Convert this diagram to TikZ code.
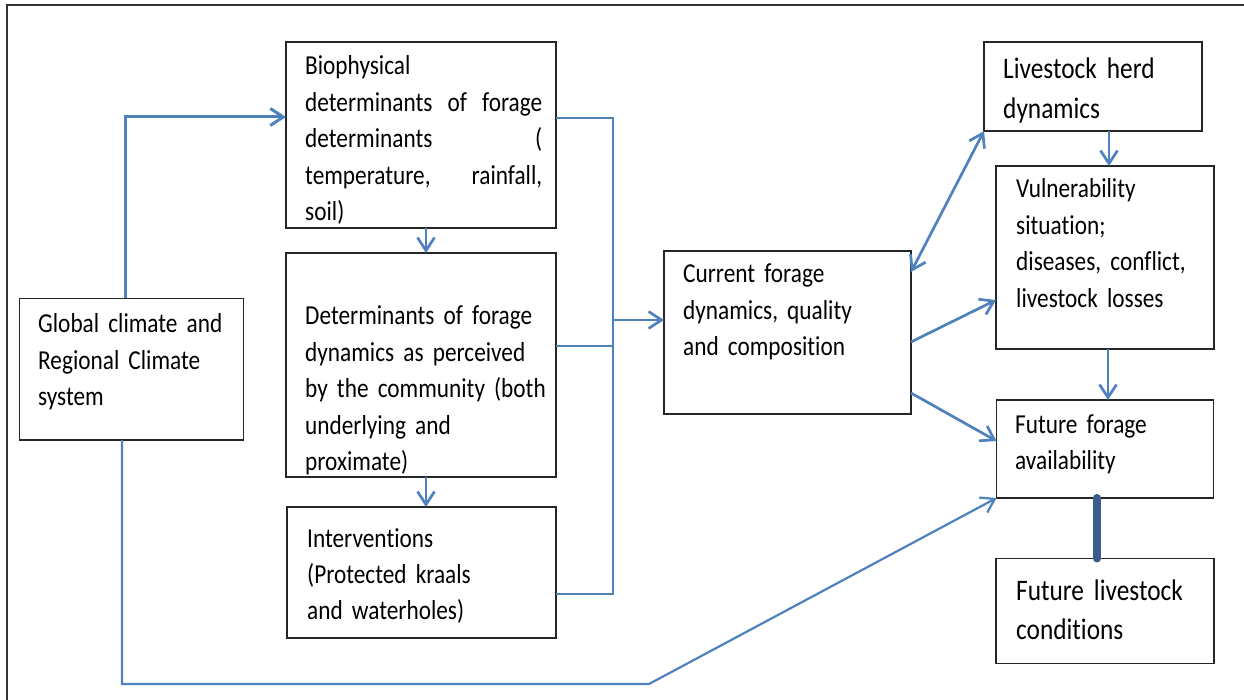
\documentclass[tikz,border=0pt]{standalone}
\usepackage{fontspec}
\setmainfont{Carlito}[FakeStretch=0.85, Ligatures=NoCommon]
\usetikzlibrary{arrows.meta}
\definecolor{arr}{HTML}{4F81BD}
\definecolor{darkarr}{HTML}{385D8A}
\newcommand{\myTxtFont}{\fontsize{27.4}{36.4}\selectfont\spaceskip=5.2pt plus 3pt minus 1pt\relax}
\newcommand{\myBigFont}{\fontsize{29.8}{39.6}\selectfont\spaceskip=5.6pt plus 3pt minus 1pt\relax}
\begin{document}
\begin{tikzpicture}[x=1pt,y=-1pt,
  box/.style={draw=black!85, line width=1.4pt, inner sep=0pt, outer sep=0pt, anchor=north west},
  txt/.style={anchor=base west, inner sep=0pt, text width=#1, align=left, font=\myTxtFont},
  bigtxt/.style={anchor=base west, inner sep=0pt, text width=#1, align=left, font=\myBigFont},
  barb/.tip={Straight Barb[length=13pt,width=17pt]},
  arrowline/.style={draw=arr, line width=2.7pt, -barb},
  thinline/.style={draw=arr, line width=1.8pt},
  frameline/.style={draw=black!80, line width=1.6pt}]
\useasboundingbox (0,0) rectangle (1244,700);
\draw[frameline] (7,700) -- (7,5) -- (1244,5);

% boxes
\node[box, minimum width=224pt, minimum height=141.5pt] (glob) at (19.5,298.5) {};
\node[box, minimum width=270pt, minimum height=186pt] (bio) at (286,42) {};
\node[box, minimum width=270pt, minimum height=224pt] (det) at (286,253) {};
\node[box, minimum width=269pt, minimum height=131pt] (int) at (287,507) {};
\node[box, minimum width=247pt, minimum height=163pt] (cur) at (664,251) {};
\node[box, minimum width=218pt, minimum height=89pt] (herd) at (984,42) {};
\node[box, minimum width=218pt, minimum height=183pt] (vul) at (996,166) {};
\node[box, minimum width=217pt, minimum height=98pt] (ff) at (996.5,400) {};
\node[box, minimum width=218pt, minimum height=105pt] (fl) at (996,558.5) {};

% texts
\node[txt=200pt] (tglob) at (38,333) {Global climate and\\Regional Climate\\system};
\node[txt=237pt] (tbio) at (305,75) {Biophysical\\determinants\hfill of\hfill forage\\determinants\hfill(\\temperature,\hfill rainfall,\\soil)};
\node[txt=245pt] (tdet) at (305,325) {Determinants of forage\\dynamics as perceived\\by the community (both\\underlying and\\proximate)};
\node[txt=240pt] (tint) at (307,547) {Interventions\\(Protected kraals\\and waterholes)};
\node[txt=220pt] (tcur) at (683,283) {Current forage\\dynamics, quality\\and composition};
\node[bigtxt=195pt] (therd) at (1003,79) {Livestock herd\\dynamics};
\node[txt=195pt] (tvul) at (1016,198) {Vulnerability\\situation;\\diseases, conflict,\\livestock losses};
\node[txt=195pt] (tff) at (1015,433) {Future forage\\availability};
\node[bigtxt=195pt] (tfl) at (1016,600) {Future livestock\\conditions};

% helper coordinates
\coordinate (gtop) at (125,117);
\coordinate (gb1) at (122,684);
\coordinate (gb2) at (649,684);
\coordinate (cx) at (426,0);
\coordinate (bx) at (613,0);
\coordinate (by1) at (0,118);
\coordinate (by2) at (0,346);
\coordinate (by3) at (0,594);
\coordinate (by4) at (0,320);
\coordinate (hx) at (1109,0);
\coordinate (vx) at (1108,0);
\coordinate (fx) at (1097,0);

% connectors
\draw[arrowline, line width=3pt] (gtop |- glob.north) -- (gtop) -- (gtop -| bio.west);
\draw[thinline, -barb, line width=2.2pt] (gb1 |- glob.south) -- (gb1) -- (gb2) -- (ff.south west);
\draw[arrowline] (cx |- bio.south) -- (cx |- det.north);
\draw[arrowline] (cx |- det.south) -- (cx |- int.north);
\draw[thinline] (bio.east |- by1) -| (bx |- by3) -- (int.east |- by3);
\draw[thinline] (det.east |- by2) -- (bx |- by2);
\draw[arrowline] (bx |- by4) -- (cur.west |- by4);
\draw[arrowline, barb-barb] ([yshift=-21pt]cur.north east) -- (herd.south west);
\draw[arrowline] ([yshift=-91pt]cur.north east) -- ([yshift=-134pt]vul.north west);
\draw[arrowline] ([yshift=-142pt]cur.north east) -- ([yshift=-41pt]ff.north west);
\draw[arrowline] (hx |- herd.south) -- (hx |- vul.north);
\draw[arrowline] (vx |- vul.south) -- (vx |- ff.north);
\draw[draw=darkarr, line width=8pt, line cap=round] (fx |- ff.south) -- (fx |- fl.north);
\end{tikzpicture}
\end{document}
